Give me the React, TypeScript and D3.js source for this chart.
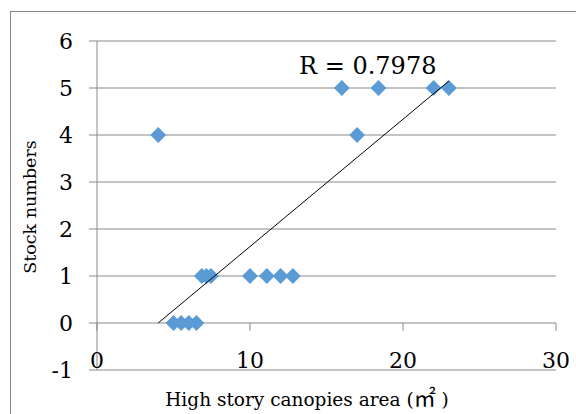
import React from "react";
import * as d3 from "d3";

const xValues = [4, 5, 5.5, 6, 6.5, 6.85, 7.15, 7.45, 10, 11.1, 12, 12.8, 16, 17, 18.4, 22, 23];
const yValues = [4, 0, 0, 0, 0, 1, 1, 1, 1, 1, 1, 1, 5, 4, 5, 5, 5];
const xTicks = [0, 10, 20, 30];
const yTicks = [-1, 0, 1, 2, 3, 4, 5, 6];
// trendline as shown (linear fit drawn over the data's x range)
const trendSlope = 0.271;
const trendIntercept = -1.084;
const rLabel = "R = 0.7978";
const xTitleMain = "High story canopies area (";
const xTitleUnit = "㎡";
const xTitleEnd = " )";
const yTitle = "Stock numbers";

export default function App() {
  const W = 576, H = 414;
  const x = d3.scaleLinear().domain([0, 30]).range([97, 556]);
  const y = d3.scaleLinear().domain([-1, 6]).range([370, 41]);
  const x0 = d3.min(xValues)!, x1 = d3.max(xValues)!;
  const line = d3.line<number>().x((d) => x(d)).y((d) => y(trendIntercept + trendSlope * d));
  const diamond = d3.symbol().type(d3.symbolDiamond2).size(160)();
  const serif = "'DejaVu Serif', 'Liberation Serif', serif";
  const grid = "#898989";
  return (
    <svg width={W} height={H} style={{ position: "absolute", left: 0, top: 0, background: "#fff" }}>
      <rect x={10.5} y={11.5} width={W} height={H} fill="#fff" stroke={grid} strokeWidth={1} />
      {yTicks.map((t) => (
        <line key={"g" + t} x1={89} x2={556} y1={y(t)} y2={y(t)} stroke={grid} strokeWidth={1} />
      ))}
      <line x1={97} x2={97} y1={41} y2={370} stroke={grid} strokeWidth={1} />
      {xTicks.map((t) => (
        <line key={"xt" + t} x1={x(t)} x2={x(t)} y1={y(0)} y2={y(0) + 8} stroke={grid} strokeWidth={1} />
      ))}
      {yTicks.map((t) => (
        <text key={"yl" + t} x={73} y={y(t)} dy="0.36em" textAnchor="end" fontFamily={serif} fontSize={22} fill="#000">
          {t}
        </text>
      ))}
      {xTicks.map((t) => (
        <text key={"xl" + t} x={x(t)} y={368} textAnchor="middle" fontFamily={serif} fontSize={22} fill="#000">
          {t}
        </text>
      ))}
      {xValues.map((v, i) => (
        <path key={"p" + i} d={diamond!} transform={`translate(${x(v)},${y(yValues[i])})`} fill="#5B9BD5" />
      ))}
      <path d={line([x0, x1])!} stroke="#000" strokeWidth={1} fill="none" />
      <text x={299} y={74} fontFamily={serif} fontSize={24} fill="#000">{rLabel}</text>
      <text x={307} y={406} textAnchor="middle" fontFamily={serif} fontSize={18.5} fill="#000">
        {xTitleMain}
        <tspan fontFamily="'Noto Sans CJK JP', sans-serif" fontSize={22}>{xTitleUnit}</tspan>
        {xTitleEnd}
      </text>
      <text transform="translate(36,207) rotate(-90)" textAnchor="middle" fontFamily={serif} fontSize={17.5} fill="#000">
        {yTitle}
      </text>
    </svg>
  );
}
